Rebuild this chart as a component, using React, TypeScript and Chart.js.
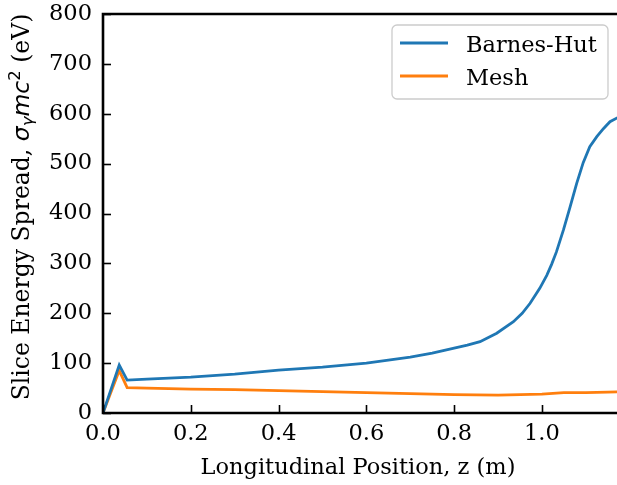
import React, { useEffect, useRef } from "react";
import { Chart, registerables } from "chart.js";

Chart.register(...registerables);

// Longitudinal positions (m) and slice energy spread (eV) for each solver
const zBarnesHut = [0, 0.037, 0.055, 0.1, 0.2, 0.3, 0.4, 0.5, 0.6, 0.65, 0.7, 0.75, 0.8, 0.83, 0.859, 0.897, 0.935, 0.955, 0.973, 0.995, 1.011, 1.022, 1.033, 1.049, 1.064, 1.079, 1.094, 1.109, 1.125, 1.14, 1.155, 1.17, 1.19];
const spreadBarnesHut = [0, 96, 66, 68, 72, 78, 86, 92, 100, 106, 112, 120, 130, 136, 143, 160, 183, 200, 220, 250, 276, 298, 323, 367, 413, 460, 502, 534, 554, 570, 584, 591, 598];

const zMesh = [0, 0.037, 0.055, 0.1, 0.2, 0.3, 0.4, 0.5, 0.6, 0.7, 0.8, 0.9, 0.95, 1.0, 1.05, 1.1, 1.15, 1.19];
const spreadMesh = [0, 85, 51, 50, 48, 47, 45, 43, 41, 39, 37, 36, 37, 38, 41, 41, 42, 43];

const xTicks = [0, 0.2, 0.4, 0.6, 0.8, 1.0];
const yTicks = [0, 100, 200, 300, 400, 500, 600, 700, 800];

const seriesNames = ["Barnes-Hut", "Mesh"];
const seriesColors = ["#1f77b4", "#ff7f0e"];

const SERIF = "'DejaVu Serif', serif";
const MATH = "'DejaVu Sans', sans-serif";
const FS = 22.5;
const YFS = 23.5;

const toPoints = (xs: number[], ys: number[]) => xs.map((x, i) => ({ x, y: ys[i] }));

// Spines, inward tick marks, axis titles and legend box
const decorations = {
  id: "decorations",
  afterDatasetsDraw(chart: any) {
    const { ctx, chartArea } = chart;
    const xs = chart.scales.x;
    const ys = chart.scales.y;
    const { left, right, top, bottom } = chartArea;

    ctx.save();
    ctx.strokeStyle = "#000";
    ctx.lineCap = "butt";

    // tick marks pointing inward
    ctx.lineWidth = 1.6;
    for (const t of yTicks) {
      const py = Math.round(ys.getPixelForValue(t)) + 0.5;
      ctx.beginPath();
      ctx.moveTo(left, py);
      ctx.lineTo(left + 8, py);
      ctx.stroke();
    }
    for (const t of xTicks) {
      const px = Math.round(xs.getPixelForValue(t)) + 0.5;
      ctx.beginPath();
      ctx.moveTo(px, bottom);
      ctx.lineTo(px, bottom - 8);
      ctx.stroke();
    }

    // spines
    ctx.lineWidth = 2.6;
    ctx.beginPath();
    ctx.moveTo(right + 2, top);
    ctx.lineTo(left, top);
    ctx.lineTo(left, bottom);
    ctx.lineTo(right + 2, bottom);
    ctx.stroke();

    // x axis title
    ctx.fillStyle = "#000";
    ctx.font = `${FS}px ${SERIF}`;
    ctx.textAlign = "center";
    ctx.textBaseline = "alphabetic";
    ctx.fillText("Longitudinal Position, z (m)", 358, 474);

    // y axis title with math parts
    const segs = [
      { t: "Slice Energy Spread, ", f: `${YFS}px ${SERIF}`, dy: 0 },
      { t: "σ", f: `italic ${YFS}px ${MATH}`, dy: 0 },
      { t: "γ", f: `italic ${YFS * 0.7}px ${MATH}`, dy: 4 },
      { t: "mc", f: `italic ${YFS}px ${MATH}`, dy: 0 },
      { t: "2", f: `${YFS * 0.7}px ${MATH}`, dy: -9 },
      { t: " (eV)", f: `${YFS}px ${SERIF}`, dy: 0 },
    ];
    let total = 0;
    const widths = segs.map((s) => {
      ctx.font = s.f;
      const w = ctx.measureText(s.t).width;
      total += w;
      return w;
    });
    ctx.translate(29, 207);
    ctx.rotate(-Math.PI / 2);
    ctx.textAlign = "left";
    let cx = -total / 2;
    segs.forEach((s, i) => {
      ctx.font = s.f;
      ctx.fillText(s.t, cx, s.dy);
      cx += widths[i];
    });
    ctx.setTransform(1, 0, 0, 1, 0, 0);

    // legend
    const bx = 392, by = 25, bw = 216, bh = 74, r = 5;
    ctx.globalAlpha = 0.8;
    ctx.fillStyle = "#fff";
    ctx.beginPath();
    ctx.roundRect(bx, by, bw, bh, r);
    ctx.fill();
    ctx.globalAlpha = 1;
    ctx.strokeStyle = "#cccccc";
    ctx.lineWidth = 1.3;
    ctx.stroke();
    chart.data.datasets.forEach((ds: any, i: number) => {
      const ly = 43 + i * 33;
      ctx.strokeStyle = ds.borderColor;
      ctx.lineWidth = 2.8;
      ctx.beginPath();
      ctx.moveTo(400, ly);
      ctx.lineTo(448, ly);
      ctx.stroke();
      ctx.fillStyle = "#000";
      ctx.font = `${FS}px ${SERIF}`;
      ctx.textAlign = "left";
      ctx.textBaseline = "alphabetic";
      ctx.fillText(ds.label, 466, ly + 8.5);
    });
    ctx.restore();
  },
};

export default function App() {
  const ref = useRef<HTMLCanvasElement>(null);

  useEffect(() => {
    if (!ref.current) return;
    const chart = new Chart(ref.current, {
      type: "line",
      data: {
        datasets: [
          {
            label: seriesNames[0],
            data: toPoints(zBarnesHut, spreadBarnesHut),
            borderColor: seriesColors[0],
            backgroundColor: seriesColors[0],
            borderWidth: 2.8,
            pointRadius: 0,
            tension: 0,
          },
          {
            label: seriesNames[1],
            data: toPoints(zMesh, spreadMesh),
            borderColor: seriesColors[1],
            backgroundColor: seriesColors[1],
            borderWidth: 2.8,
            pointRadius: 0,
            tension: 0,
          },
        ],
      },
      options: {
        responsive: false,
        animation: false,
        layout: { padding: { top: 14, right: 0, left: 0, bottom: 0 } },
        plugins: {
          legend: { display: false },
          tooltip: { enabled: false },
        },
        scales: {
          x: {
            type: "linear",
            min: 0,
            max: 1.171,
            grid: { display: false, drawTicks: false },
            border: { display: false },
            afterFit: (s: any) => {
              s.height = 72;
              s.paddingLeft = 0;
              s.paddingRight = 0;
            },
            afterBuildTicks: (s: any) => {
              s.ticks = xTicks.map((v) => ({ value: v }));
            },
            ticks: {
              padding: 8,
              color: "#000",
              font: { family: SERIF, size: FS },
              maxRotation: 0,
              autoSkip: false,
              callback: (v: any) => Number(v).toFixed(1),
            },
          },
          y: {
            type: "linear",
            min: 0,
            max: 800,
            grid: { display: false, drawTicks: false },
            border: { display: false },
            afterFit: (s: any) => {
              s.width = 103;
              s.paddingTop = 0;
              s.paddingBottom = 0;
            },
            afterBuildTicks: (s: any) => {
              s.ticks = yTicks.map((v) => ({ value: v }));
            },
            ticks: {
              padding: 11,
              color: "#000",
              font: { family: SERIF, size: FS },
              autoSkip: false,
              callback: (v: any) => String(v),
            },
          },
        },
      },
      plugins: [decorations],
    });
    return () => chart.destroy();
  }, []);

  return (
    <div style={{ position: "absolute", left: 0, top: 0, width: 617, height: 485, background: "#fff" }}>
      <canvas ref={ref} width={617} height={485} />
    </div>
  );
}
